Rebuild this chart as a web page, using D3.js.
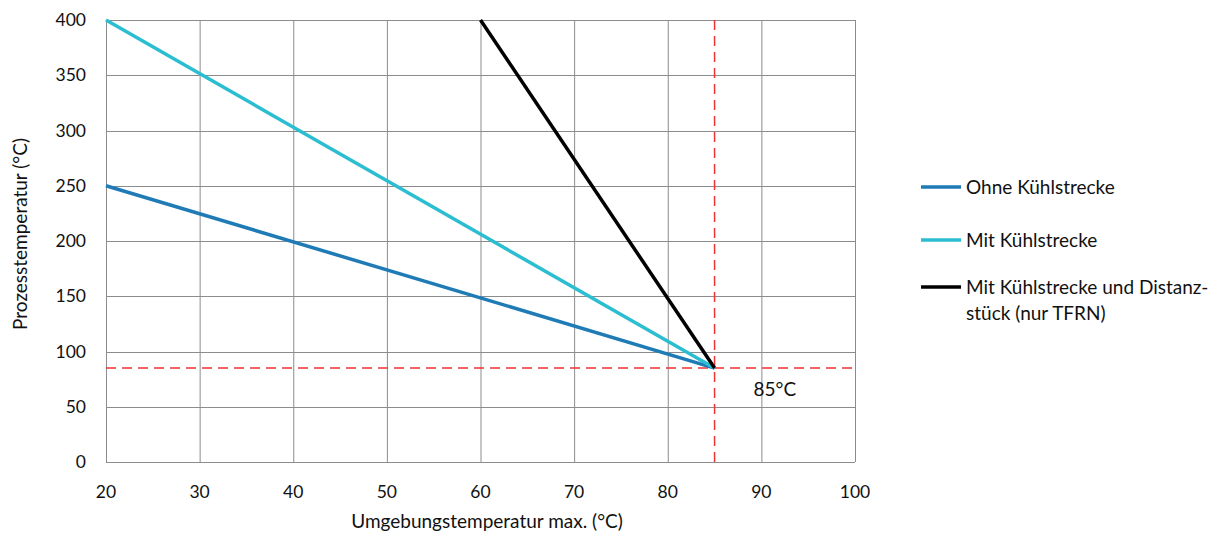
<!DOCTYPE html>
<html>
<head>
<meta charset="UTF-8">
<title>Prozesstemperatur</title>
<script src="https://cdn.jsdelivr.net/npm/d3@7"></script>
<style>
    body { margin: 0; background: #fff; }
    text { font-family: Lato, "Open Sans", sans-serif; fill: #111; }
</style>
</head>
<body>
<div id="chart"></div>
<script>
    // data
    var xTicks = [20, 30, 40, 50, 60, 70, 80, 90, 100];
    var yTicks = [0, 50, 100, 150, 200, 250, 300, 350, 400];
    var seriesNames = ["Ohne Kühlstrecke", "Mit Kühlstrecke", "Mit Kühlstrecke und Distanz-|stück (nur TFRN)"];
    var seriesColors = ["#1f7bb6", "#2bbdd0", "#000000"];
    var ohne = [[20, 250], [85, 85]];
    var mit = [[20, 400], [85, 85]];
    var distanz = [[60, 400], [85, 85]];
    var limit = 85;

    var width = 1214, height = 534;
    var m = {left: 106, right: 359, top: 20, bottom: 72};

    var svg = d3.select("#chart").append("svg")
        .attr("width", width).attr("height", height);

    var x = d3.scaleLinear().domain([20, 100]).range([m.left, width - m.right]);
    var y = d3.scaleLinear().domain([0, 400]).range([height - m.bottom, m.top]);

    // grid
    svg.append("g").selectAll("line.v").data(xTicks).enter().append("line")
        .attr("x1", function (d) { return x(d) + 0.5; }).attr("x2", function (d) { return x(d) + 0.5; })
        .attr("y1", y(400)).attr("y2", y(0))
        .style("stroke", "#8c8c8c").style("stroke-width", 1);
    svg.append("g").selectAll("line.h").data(yTicks).enter().append("line")
        .attr("y1", function (d) { return Math.round(y(d)) + 0.5; }).attr("y2", function (d) { return Math.round(y(d)) + 0.5; })
        .attr("x1", x(20)).attr("x2", x(100))
        .style("stroke", "#8c8c8c").style("stroke-width", 1);

    // tick labels
    svg.append("g").selectAll("text").data(yTicks).enter().append("text")
        .attr("x", m.left - 20).attr("y", function (d) { return y(d); })
        .attr("dy", "0.35em").attr("text-anchor", "end")
        .style("font-size", "17.5px").text(function (d) { return d; });
    svg.append("g").selectAll("text").data(xTicks).enter().append("text")
        .attr("x", function (d) { return x(d); }).attr("y", y(0) + 36)
        .attr("text-anchor", "middle")
        .style("font-size", "17.5px").text(function (d) { return d; });

    // axis titles
    svg.append("text")
        .attr("x", 487).attr("y", 528)
        .attr("text-anchor", "middle").style("font-size", "19px")
        .text("Umgebungstemperatur max. (°C)");
    svg.append("text")
        .attr("transform", "translate(27,234) rotate(-90)")
        .attr("text-anchor", "middle").style("font-size", "19px")
        .text("Prozesstemperatur (°C)");

    // red dashed limits
    svg.append("line")
        .attr("x1", x(limit)).attr("x2", x(limit)).attr("y1", y(400)).attr("y2", y(0))
        .style("stroke", "#ee3333").style("stroke-width", 1.5).style("stroke-dasharray", "10,6");
    svg.append("line")
        .attr("x1", x(20)).attr("x2", x(100)).attr("y1", y(limit)).attr("y2", y(limit))
        .style("stroke", "#ee3333").style("stroke-width", 1.5).style("stroke-dasharray", "10,6");

    svg.append("text")
        .attr("x", x(limit) + 39).attr("y", y(limit) + 28)
        .style("font-size", "19px").text("85°C");

    // series lines
    var line = d3.line()
        .x(function (d) { return x(d[0]); })
        .y(function (d) { return y(d[1]); });

    [ohne, mit, distanz].forEach(function (s, i) {
        svg.append("path").datum(s)
            .attr("d", line)
            .style("fill", "none")
            .style("stroke", seriesColors[i])
            .style("stroke-width", 3.5)
            .style("stroke-linejoin", "round");
    });

    // legend
    var legY = [187, 240, 287];
    var legend = svg.append("g").selectAll("g").data(seriesNames).enter().append("g")
        .attr("transform", function (d, i) { return "translate(921," + legY[i] + ")"; });
    legend.append("line")
        .attr("x1", 0).attr("x2", 40).attr("y1", 0).attr("y2", 0)
        .style("stroke-width", 3.5)
        .style("stroke", function (d, i) { return seriesColors[i]; });
    legend.append("text")
        .attr("x", 45).attr("y", 0)
        .style("font-size", "19px")
        .each(function (d) {
            var parts = d.split("|");
            var t = d3.select(this);
            parts.forEach(function (p, j) {
                t.append("tspan").attr("x", 45).attr("dy", j === 0 ? "0.35em" : "26px").text(p);
            });
        });
</script>
</body>
</html>
